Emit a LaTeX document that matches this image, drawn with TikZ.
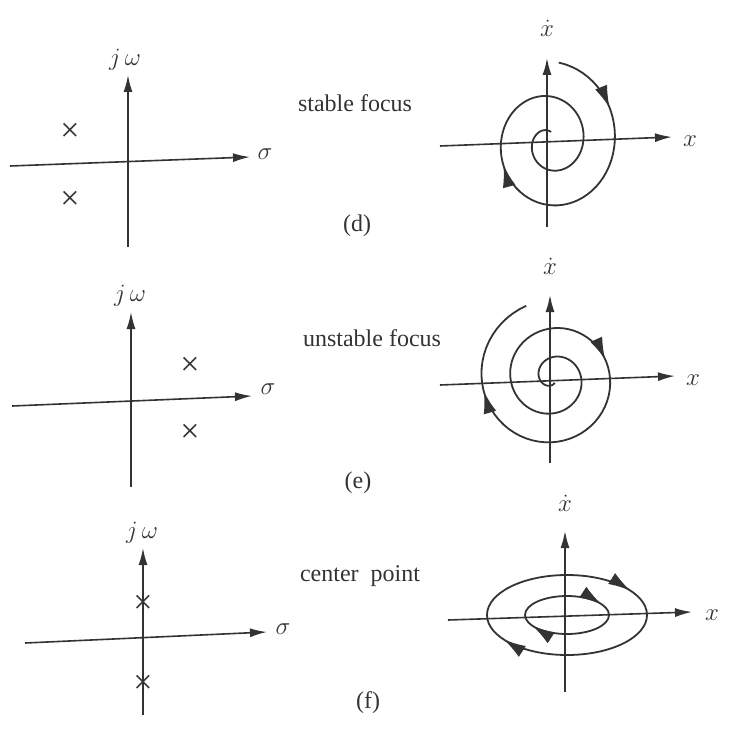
\documentclass[tikz,border=0pt]{standalone}
\usepackage{fontspec}
\setmainfont{Liberation Serif}
\usetikzlibrary{arrows.meta,decorations.markings}
\tikzset{
  axis/.style={line width=1.6pt,draw=black!80,-{Latex[length=17pt,width=9pt]}},
  traj/.style={line width=1.8pt,draw=black!80},
  cross/.style={font=\fontsize{34}{34}\selectfont,text=black!80,inner sep=0pt},
  lbl/.style={font=\fontsize{24}{28}\selectfont,text=black!80},
  arrs/.style 2 args={postaction={decorate},decoration={markings,
    mark=at position #1 with {\arrow[black!80]{Latex[length=22pt,width=13pt]}},
    mark=at position #2 with {\arrow[black!80]{Latex[length=22pt,width=13pt]}}}}
}
\begin{document}
\begin{tikzpicture}[x=1pt,y=-1pt]
\useasboundingbox (0,0) rectangle (734,754);
% (d) s-plane
\draw[axis] (128,247) -- (128,75);
\draw[axis] (10,166) -- (250,157);
\node[lbl] (djw) at (125,60) {$j\,\omega$};
\node[lbl] (dsig) at (265,154) {$\sigma$};
\node[cross] (dp1) at (70,132) {×};
\node[cross] (dp2) at (70,200) {×};
\node[lbl] (dtxt) at (355,103) {stable focus};
\node[lbl] (dcap) at (357,226) {(d)};
% (d) phase plane
\draw[axis] (547,227) -- (547,58);
\draw[axis] (440,146) -- (672,137);
\node[lbl] (dxd) at (547,28) {$\dot{x}$};
\node[lbl] (dx) at (690,141) {$x$};
\draw[traj,arrs={0.13}{0.5}] plot[variable=\t,domain=0:1,samples=140]
  ({550+0.9*(80-70*\t)*cos(83-720*\t)},{142-(80-70*\t)*sin(83-720*\t)});
% (e) s-plane
\draw[axis] (131,487) -- (131,312);
\draw[axis] (12,406) -- (252,396);
\node[lbl] (ejw) at (130,296) {$j\,\omega$};
\node[lbl] (esig) at (268,389) {$\sigma$};
\node[cross] (ep1) at (190,366) {×};
\node[cross] (ep2) at (190,433) {×};
\node[lbl] (etxt) at (372,338) {unstable focus};
\node[lbl] (ecap) at (358,483) {(e)};
% (e) phase plane
\draw[axis] (550,463) -- (550,295);
\draw[axis] (440,385) -- (675,376);
\node[lbl] (exd) at (550,266) {$\dot{x}$};
\node[lbl] (ex) at (693,380) {$x$};
\draw[traj,arrs={0.52}{0.84}] plot[variable=\t,domain=0:1,samples=160]
  ({553+(5+72*\t)*cos(1010-900*\t)},{378-(5+72*\t)*sin(1010-900*\t)});
% (f) s-plane
\draw[axis] (143,715) -- (143,548);
\draw[axis] (25,643) -- (267,632);
\node[lbl] (fjw) at (142,533) {$j\,\omega$};
\node[lbl] (fsig) at (283,629) {$\sigma$};
\node[cross] (fp1) at (143,604) {×};
\node[cross] (fp2) at (143,684) {×};
\node[lbl] (ftxt) at (360,576) {center\ \ point};
\node[lbl] (fcap) at (368,703) {(f)};
% (f) phase plane
\draw[axis] (565,692) -- (565,531);
\draw[axis] (448,620) -- (692,612);
\node[lbl] (fxd) at (565,503) {$\dot{x}$};
\node[lbl] (fx) at (712,615) {$x$};
\draw[traj,arrs={0.42}{0.92}] (647,615) arc[start angle=0,end angle=360,x radius=80,y radius=40];
\draw[traj,arrs={0.43}{0.93}] (609,615) arc[start angle=0,end angle=360,x radius=42,y radius=19];
\end{tikzpicture}
\end{document}
